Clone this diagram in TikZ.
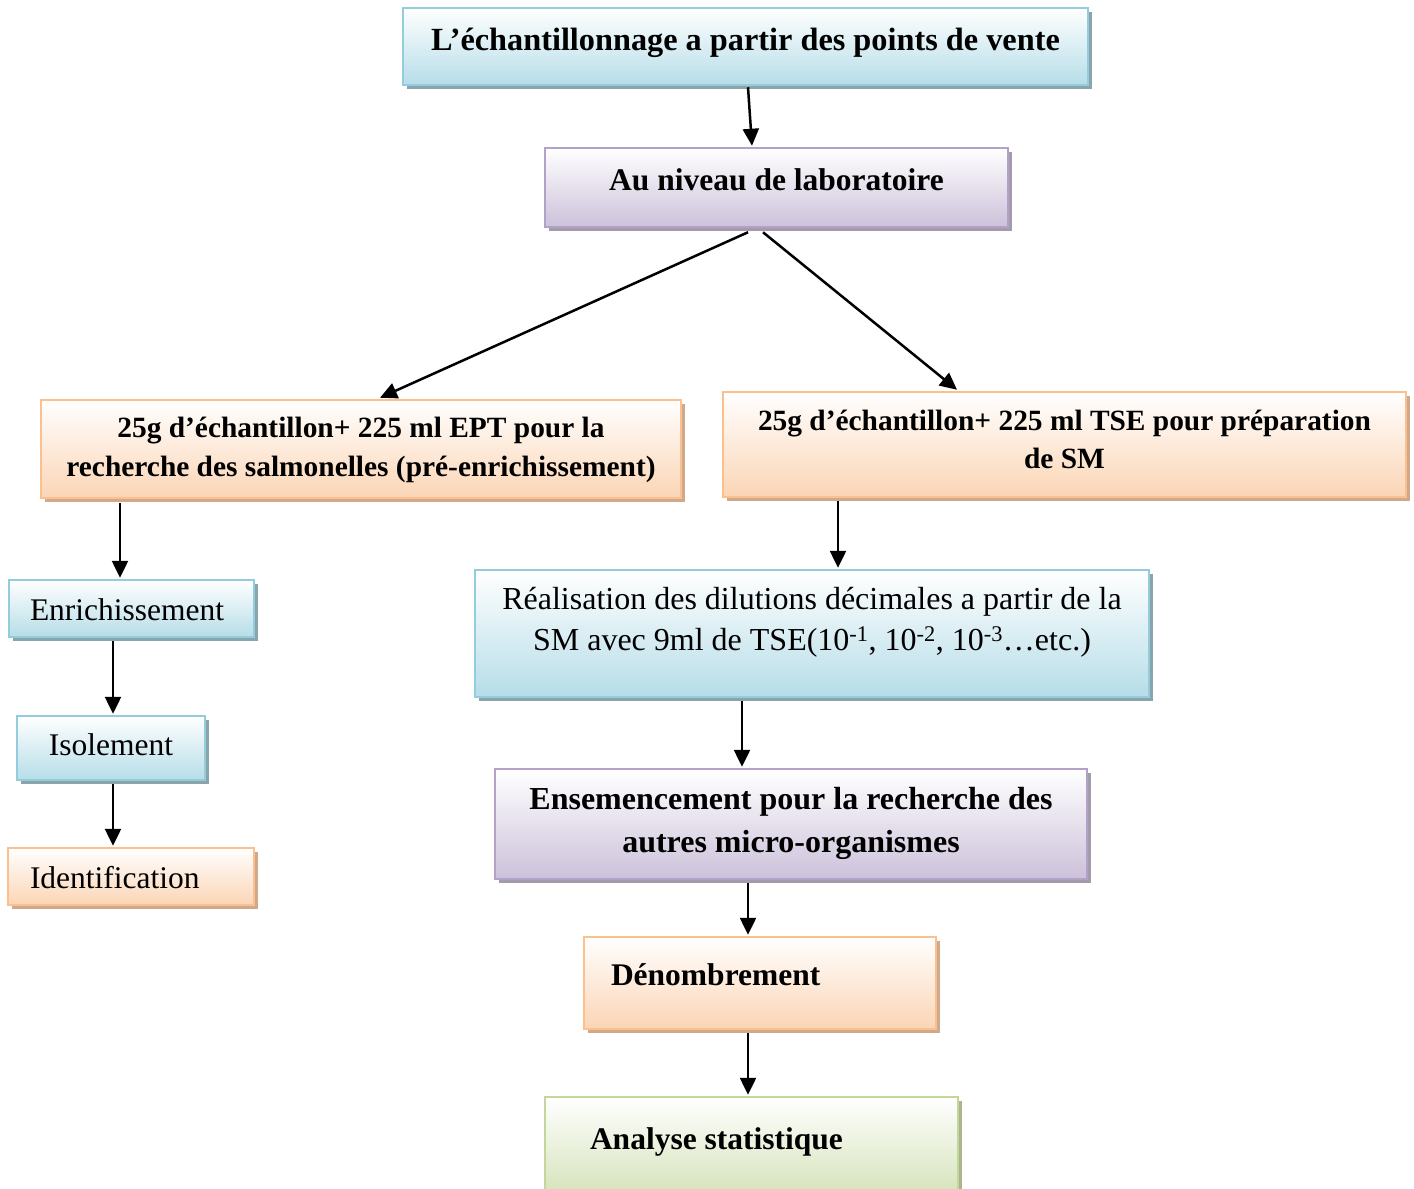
\documentclass[tikz,border=0pt]{standalone}
\usepackage{fontspec}
\setmainfont{Liberation Serif}
\usetikzlibrary{arrows.meta,calc,shadows}
\definecolor{bluebd}{HTML}{93CDDD}
\definecolor{bluebg}{HTML}{B6DDE8}
\definecolor{blueshd}{HTML}{8AA4AC}
\definecolor{purpbd}{HTML}{B2A2C7}
\definecolor{purpbg}{HTML}{CCC1DA}
\definecolor{purpshd}{HTML}{A39BAB}
\definecolor{orbd}{HTML}{FAC090}
\definecolor{orbg}{HTML}{FBD5B5}
\definecolor{orshd}{HTML}{CFA98A}
\definecolor{grbd}{HTML}{C3D69B}
\definecolor{grbg}{HTML}{D7E4BD}
\definecolor{grshd}{HTML}{A9B68D}
\newcommand\liftbox[2]{\raisebox{#1}[\height][\depth]{#2}}
\tikzset{
  box/.style={rectangle, inner sep=0pt, line width=2.5pt, font=\fontsize{31.5}{40}\selectfont},
  one/.style={text height=22pt, text depth=2pt},
  bluebox/.style={box, draw=bluebd, top color=white, bottom color=bluebg,
    copy shadow={shadow xshift=4pt, shadow yshift=-4pt, fill=blueshd, draw=none}},
  purpbox/.style={box, draw=purpbd, top color=white, bottom color=purpbg,
    copy shadow={shadow xshift=4pt, shadow yshift=-4pt, fill=purpshd, draw=none}},
  orbox/.style={box, draw=orbd, top color=white, bottom color=orbg,
    copy shadow={shadow xshift=4pt, shadow yshift=-4pt, fill=orshd, draw=none}},
  grbox/.style={box, draw=grbd, top color=white, bottom color=grbg,
    copy shadow={shadow xshift=4pt, shadow yshift=-4pt, fill=grshd, draw=none}},
  conn/.style={line width=2.5pt, -{Triangle[length=17pt,width=16pt]}}
}
\begin{document}
\begin{tikzpicture}[x=1pt,y=-1pt]
\path[fill=white,use as bounding box] (0,0) rectangle (1414,1189);

\node[bluebox, one, minimum width=685pt, minimum height=77pt, font=\fontsize{32.3}{40}\selectfont] (top) at (745.5,46.5)
  {\liftbox{6.5pt}{\bfseries L’échantillonnage a partir des points de vente}};
\node[purpbox, one, minimum width=463pt, minimum height=79pt] (lab) at (776.5,187.5)
  {\liftbox{7.5pt}{\bfseries Au niveau de laboratoire}};
\node[orbox, minimum width=640pt, minimum height=98pt, font=\fontsize{29.4}{39}\selectfont] (leftor) at (361,449)
  {\bfseries\begin{tabular}{@{}c@{}}25g d’échantillon+ 225 ml EPT pour la\\recherche des salmonelles (pré-enrichissement)\end{tabular}};
\node[orbox, minimum width=683pt, minimum height=105pt, font=\fontsize{29.4}{38}\selectfont] (rightor) at (1064.5,444.5)
  {\liftbox{2.5pt}{\bfseries\begin{tabular}{@{}c@{}}25g d’échantillon+ 225 ml TSE pour préparation\\de SM\end{tabular}}};
\node[bluebox, one, minimum width=245pt, minimum height=57pt] (enrich) at (131.5,608.5)
  {\makebox[245pt][l]{\hspace{21pt}\liftbox{-1.5pt}{Enrichissement}}};
\node[bluebox, one, minimum width=188pt, minimum height=64pt] (isol) at (111,748)
  {\liftbox{3pt}{Isolement}};
\node[orbox, one, minimum width=246pt, minimum height=57pt] (ident) at (131,876.5)
  {\makebox[246pt][l]{\hspace{22pt}\liftbox{-1.5pt}{Identification}}};
\node[bluebox, minimum width=674pt, minimum height=127pt, font=\fontsize{32}{41}\selectfont] (real) at (812,633.5)
  {\liftbox{12pt}{\begin{tabular}{@{}c@{}}Réalisation des dilutions décimales a partir de la\\SM avec 9ml de TSE(10\textsuperscript{-1}, 10\textsuperscript{-2}, 10\textsuperscript{-3}…etc.)\end{tabular}}};
\node[purpbox, minimum width=592pt, minimum height=110pt, font=\fontsize{32}{43}\selectfont] (ens) at (791,824)
  {\liftbox{2pt}{\bfseries\begin{tabular}{@{}c@{}}Ensemencement pour la recherche des\\autres micro-organismes\end{tabular}}};
\node[orbox, one, minimum width=352pt, minimum height=92pt] (denom) at (760,983)
  {\makebox[352pt][l]{\hspace{27pt}\liftbox{8pt}{\bfseries Dénombrement}}};
\node[grbox, one, minimum width=413pt, minimum height=94pt] (analyse) at (751.5,1144)
  {\makebox[413pt][l]{\hspace{45pt}\liftbox{5pt}{\bfseries Analyse statistique}}};

\draw[conn] ($(top.south)+(2.5,1)$) -- ($(lab.north)+(-24.5,-1)$);
\draw[conn] ($(lab.south)+(-28.5,4)$) -- ($(leftor.north)+(19,-1)$);
\draw[conn] ($(lab.south)+(-13.5,4)$) -- ($(rightor.north)+(-107.5,-1)$);
\draw[conn] ($(leftor.south)+(-241,4)$) -- ($(enrich.north)+(-11.5,-1)$);
\draw[conn] ($(enrich.south)+(-18.5,3)$) -- ($(isol.north)+(2,-1)$);
\draw[conn] ($(isol.south)+(2,3)$) -- ($(ident.north)+(-18,-1)$);
\draw[conn] ($(rightor.south)+(-226.5,3)$) -- ($(real.north)+(26,-1)$);
\draw[conn] ($(real.south)+(-70,3)$) -- ($(ens.north)+(-49,-1)$);
\draw[conn] ($(ens.south)+(-43,3)$) -- ($(denom.north)+(-12,-1)$);
\draw[conn] ($(denom.south)+(-12,3)$) -- ($(analyse.north)+(-3.5,-1)$);
\end{tikzpicture}
\end{document}
